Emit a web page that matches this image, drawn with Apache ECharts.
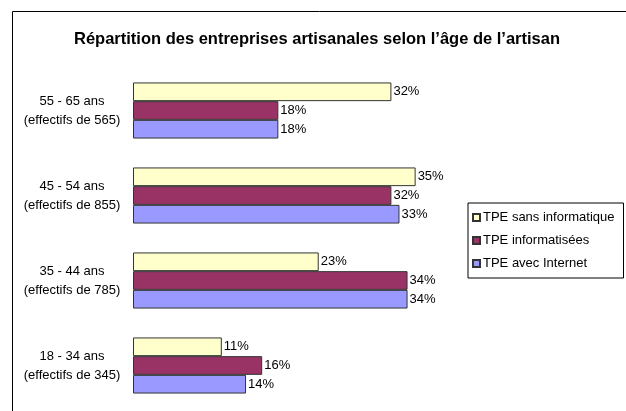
<!DOCTYPE html>
<html>
<head>
<meta charset="utf-8">
<script src="https://cdn.jsdelivr.net/npm/echarts@6/dist/echarts.min.js"></script>
<style>
  html, body { margin: 0; padding: 0; background: #fff; }
  #chart { width: 626px; height: 411px; }
</style>
</head>
<body>
<div id="chart"></div>
<script>
const categories = [
  "55 - 65 ans\n(effectifs de 565)",
  "45 - 54 ans\n(effectifs de 855)",
  "35 - 44 ans\n(effectifs de 785)",
  "18 - 34 ans\n(effectifs de 345)"
];
const sansInfo = [32, 35, 23, 11];
const informatisees = [18, 32, 34, 16];
const avecInternet = [18, 33, 34, 14];
const seriesNames = ["TPE sans informatique", "TPE informatisées", "TPE avec Internet"];
const colors = ["#ffffcc", "#993366", "#9999ff"];

const font = "'Liberation Sans', Arial, sans-serif";

function makeSeries(name, data, color) {
  return {
    name: name,
    type: "bar",
    data: data,
    barWidth: 18.7,
    barGap: "0%",
    itemStyle: { color: color, borderColor: "#333", borderWidth: 1 },
    label: {
      show: true,
      position: "right",
      distance: 2,
      formatter: "{c}%",
      color: "#000",
      fontSize: 13,
      fontFamily: font
    }
  };
}

let chart = echarts.init(document.getElementById("chart"));
chart.setOption({
  animation: false,
  backgroundColor: "#fff",
  title: {
    text: "Répartition des entreprises artisanales selon l’âge de l’artisan",
    left: 312,
    textAlign: "center",
    top: 26,
    textStyle: { fontSize: 16.5, fontWeight: "bold", color: "#000", fontFamily: font }
  },
  legend: {
    orient: "vertical",
    left: 468,
    top: 203,
    itemWidth: 7,
    itemHeight: 7,
    itemGap: 8,
    icon: "rect",
    padding: [7, 9, 7, 4],
    borderColor: "#000",
    borderWidth: 1,
    borderRadius: 0,
    backgroundColor: "#fff",
    textStyle: { fontSize: 13, lineHeight: 15, color: "#000", fontFamily: font, padding: [0, 0, 0, -2] },
    data: seriesNames
  },
  grid: { left: 133, right: 170, top: 68, bottom: 3, containLabel: false },
  xAxis: {
    type: "value",
    min: 0,
    max: 40,
    show: false
  },
  yAxis: {
    type: "category",
    inverse: true,
    data: categories,
    axisLine: { show: false },
    axisTick: { show: false },
    axisLabel: {
      align: "center",
      margin: 61,
      fontSize: 13,
      lineHeight: 19,
      color: "#000",
      fontFamily: font
    }
  },
  graphic: [{
    type: "polyline",
    shape: { points: [[12.5, 411], [12.5, 11.5], [626, 11.5]] },
    style: { stroke: "#000", lineWidth: 1, fill: null }
  }],
  series: [
    makeSeries(seriesNames[0], sansInfo, colors[0]),
    makeSeries(seriesNames[1], informatisees, colors[1]),
    makeSeries(seriesNames[2], avecInternet, colors[2])
  ]
});
</script>
</body>
</html>
